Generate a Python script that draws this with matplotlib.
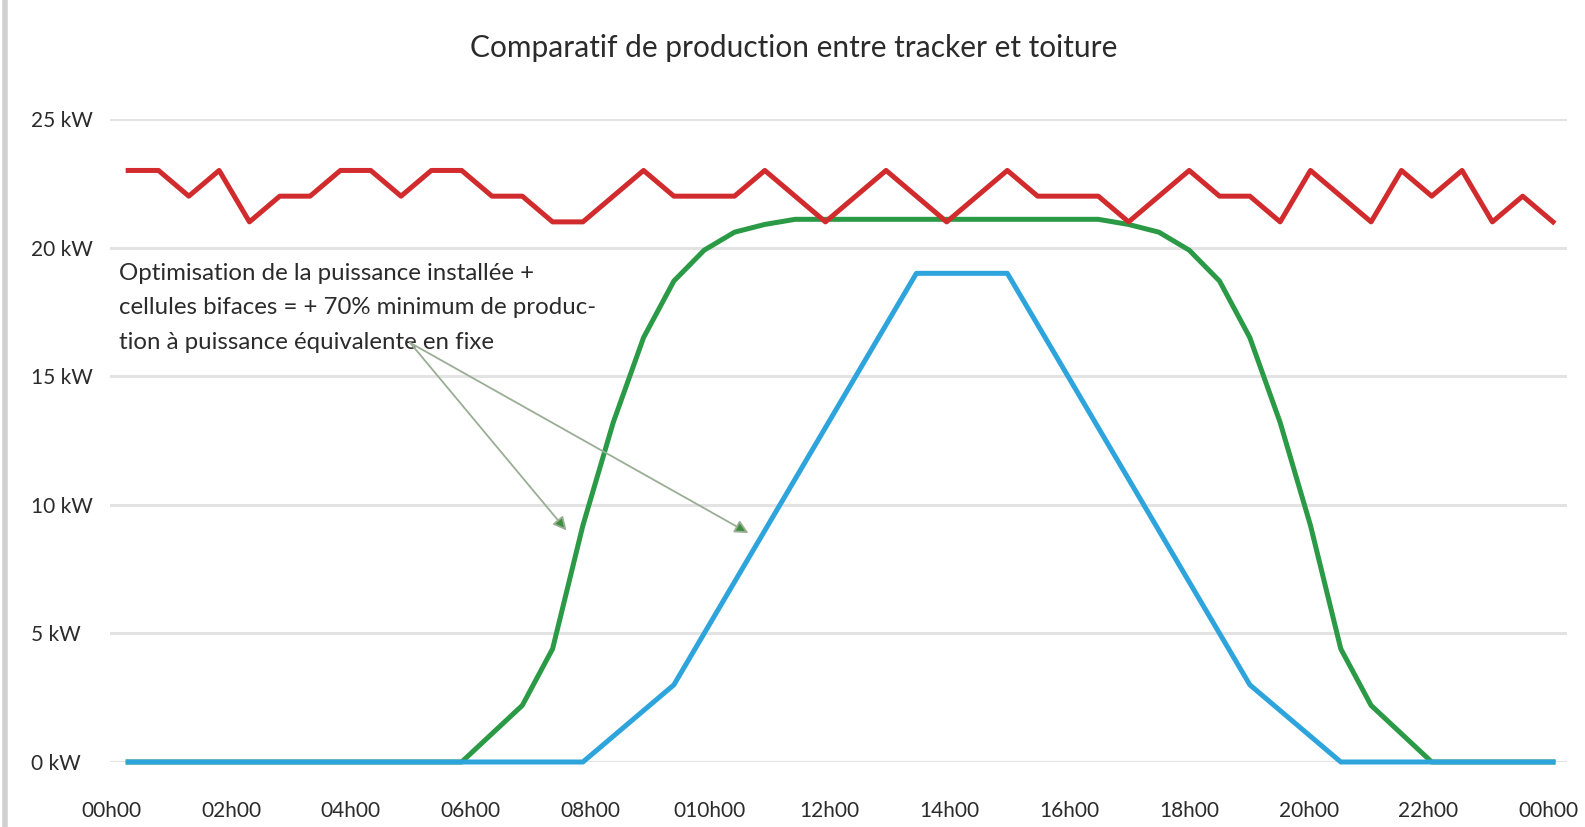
import numpy as np
import matplotlib
matplotlib.use("Agg")
import matplotlib.pyplot as plt
from matplotlib.lines import Line2D

plt.rcParams['font.family'] = ['Lato', 'DejaVu Sans']

# half-hour samples over the day
hours = np.arange(0, 24, 0.5)

# tracker with bifacial cells (red)
tracker = [23, 23, 22, 23, 21, 22, 22, 23, 23, 22, 23, 23,
           22, 22, 21, 21, 22, 23, 22, 22, 22, 23, 22, 21,
           22, 23, 22, 21, 22, 23, 22, 22, 22, 21, 22, 23,
           22, 22, 21, 23, 22, 21, 23, 22, 23, 21, 22, 21]

# tracker production (green)
green = [0, 0, 0, 0, 0, 0, 0, 0, 0, 0, 0, 0,
         1.1, 2.2, 4.4, 9.2, 13.2, 16.5, 18.7, 19.9, 20.6, 20.9, 21.1, 21.1,
         21.1, 21.1, 21.1, 21.1, 21.1, 21.1, 21.1, 21.1, 21.1, 20.9, 20.6, 19.9,
         18.7, 16.5, 13.2, 9.2, 4.4, 2.2, 1.1, 0, 0, 0, 0, 0]

# fixed roof production (blue)
roof = [0, 0, 0, 0, 0, 0, 0, 0, 0, 0, 0, 0,
        0, 0, 0, 0, 1, 2, 3, 5, 7, 9, 11, 13,
        15, 17, 19, 19, 19, 19, 17, 15, 13, 11, 9, 7,
        5, 3, 2, 1, 0, 0, 0, 0, 0, 0, 0, 0]

xlabels = ["00h00", "02h00", "04h00", "06h00", "08h00", "010h00", "12h00",
           "14h00", "16h00", "18h00", "20h00", "22h00", "00h00"]
yticks = [0, 5, 10, 15, 20, 25]

fig = plt.figure(figsize=(15.85, 8.27), dpi=100)
ax = fig.add_axes([0.0694, 0.0786, 0.9192, 0.7775])

ax.plot(hours, green, color="#2b9a46", lw=3.6, zorder=3, clip_on=False)
ax.plot(hours, roof, color="#2ea4dd", lw=3.6, zorder=4, clip_on=False)
ax.plot(hours, tracker, color="#d12b2d", lw=3.6, zorder=5, clip_on=False)

ax.set_xlim(-0.30, 23.73)
ax.set_ylim(0, 25)
ax.set_yticks(yticks)
ax.set_yticklabels([f"{v} kW" for v in yticks])
ax.set_xticks(np.linspace(-0.28, 23.42, 13))
ax.set_xticklabels(xlabels)

ax.grid(axis="y", color="#e3e3e3", lw=2.2, zorder=0)
ax.grid(axis="x", visible=False)
for s in ax.spines.values():
    s.set_visible(False)

ax.tick_params(axis="y", length=0, pad=57, labelsize=15, labelcolor="#2b2b2b")
ax.tick_params(axis="x", length=0, pad=28, labelsize=15, labelcolor="#2b2b2b")
for lab in ax.get_yticklabels():
    lab.set_horizontalalignment("left")

fig.text(0.501, 0.942, "Comparatif de production entre tracker et toiture",
         fontsize=21.5, color="#2b2b2b", ha="center", va="center")

ax.text(-0.15, 19.4,
        "Optimisation de la puissance installée +\n"
        "cellules bifaces = + 70% minimum de produc-\n"
        "tion à puissance équivalente en fixe",
        fontsize=17.3, color="#2b2b2b", va="top", ha="left",
        linespacing=1.78, zorder=6)

start = (4.65, 16.3)
for tip in [(7.23, 9.0), (10.23, 8.9)]:
    ax.annotate("", xy=tip, xytext=start,
                arrowprops=dict(arrowstyle="-|>", ec="#9aae95", fc="#3f8d3f",
                                lw=1.3, mutation_scale=20, shrinkA=0, shrinkB=0),
                zorder=6)

# light border on the left edge
fig.add_artist(Line2D([0.003, 0.003], [0, 1], color="#d0d0d0", lw=4,
                      transform=fig.transFigure))

fig.savefig("out.png", dpi=100)
